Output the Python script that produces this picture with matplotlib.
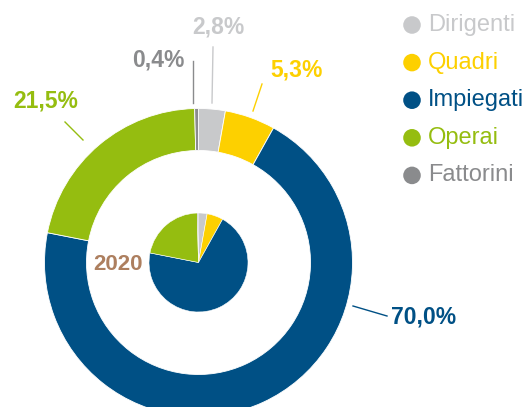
import matplotlib.pyplot as plt
from matplotlib.lines import Line2D

plt.rcParams['font.family'] = ['Liberation Sans', 'DejaVu Sans']

# data
categories = ['Dirigenti', 'Quadri', 'Impiegati', 'Operai', 'Fattorini']
shares = [2.8, 5.3, 70.0, 21.5, 0.4]
year = '2020'
colors = ['#c8c9cb', '#fdd000', '#005085', '#95bd10', '#8a8b8d']

W, H = 528, 407
fig = plt.figure(figsize=(W / 100, H / 100), dpi=100)
ax = fig.add_axes([0, 0, 1, 1])

def Y(y):
    # pixel row (from top) -> data y
    return H - y

cx, cy = 198.5, Y(262.5)

# outer ring
ax.pie(shares, colors=colors, radius=154, center=(cx, cy), startangle=90,
       counterclock=False,
       wedgeprops=dict(width=42, edgecolor='white', linewidth=0.6))
# inner pie
ax.pie(shares, colors=colors, radius=49.5, center=(cx, cy), startangle=90,
       counterclock=False,
       wedgeprops=dict(edgecolor='white', linewidth=0.4))

# percentage labels with leader lines (text pos, line start, line end)
label_pos = {
    'Dirigenti': ((218, 27), (213, 47), (212, 103)),
    'Quadri': ((297, 70), (262, 84), (253, 111)),
    'Impiegati': ((424, 317), (387, 316), (353, 306)),
    'Operai': ((46, 101), (65, 122), (83, 140)),
    'Fattorini': ((158, 60), (193, 61), (193, 103)),
}
for name, val, col in zip(categories, shares, colors):
    (tx, ty), (x0, y0), (x1, y1) = label_pos[name]
    txt = f'{val:.1f}%'.replace('.', ',')
    ax.text(tx, Y(ty), txt, color=col, fontsize=16.5, fontweight='bold',
            ha='center', va='center')
    ax.add_line(Line2D([x0, x1], [Y(y0), Y(y1)], color=col, lw=1))

ax.text(118, Y(264), year, color='#ad7f5f', fontsize=16, fontweight='bold',
        ha='center', va='center')

# legend
for i, (name, col) in enumerate(zip(categories, colors)):
    ly = Y(25 + i * 37.6)
    ax.scatter([412], [ly], s=160, color=col, edgecolors='none')
    ax.text(428, ly, name, color=col, fontsize=17, ha='left', va='center')

ax.set_xlim(0, W)
ax.set_ylim(0, H)
ax.set_aspect('equal')
ax.axis('off')

fig.savefig('out.png', dpi=100)
